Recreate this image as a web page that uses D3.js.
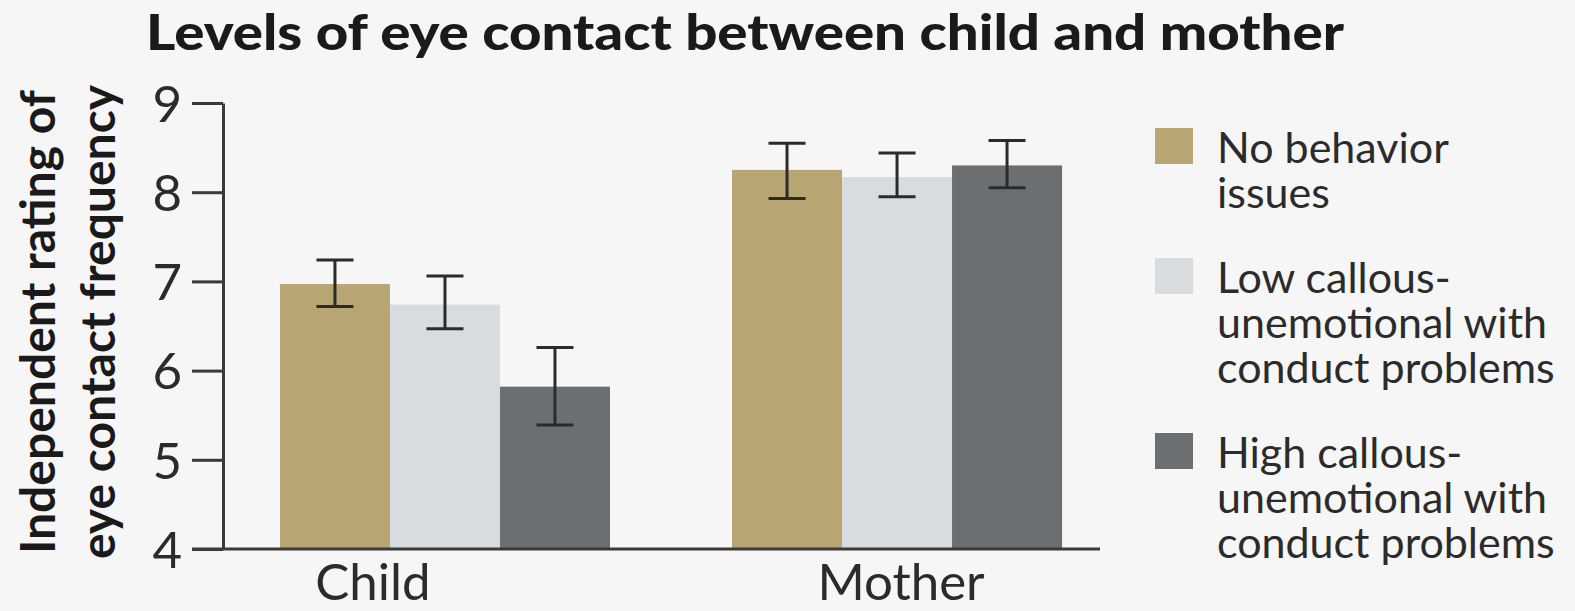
<!DOCTYPE html>
<html>
<head>
<meta charset="utf-8">
<script src="https://cdn.jsdelivr.net/npm/d3@7"></script>
<style>
  body { margin: 0; background: #f6f6f6; }
  svg { display: block; font-family: Lato, "Open Sans", sans-serif; }
</style>
</head>
<body>
<div id="chart"></div>
<script>
// data
var groups = ["Child", "Mother"];
var series = ["No behavior issues", "Low callous-unemotional with conduct problems", "High callous-unemotional with conduct problems"];
var legendLines = [["No behavior", "issues"], ["Low callous-", "unemotional with", "conduct problems"], ["High callous-", "unemotional with", "conduct problems"]];
var means = [[6.97, 6.74, 5.82], [8.25, 8.17, 8.30]];
var errLow = [[6.72, 6.47, 5.39], [7.93, 7.95, 8.05]];
var errHigh = [[7.24, 7.06, 6.26], [8.55, 8.44, 8.58]];
var yTicks = [4, 5, 6, 7, 8, 9];
var colors = ["#b8a574", "#d9dcdf", "#6c6f72"];

var W = 1575, H = 611;

var svg = d3.select("#chart").append("svg")
    .attr("width", W)
    .attr("height", H);

svg.append("rect").attr("width", W).attr("height", H).attr("fill", "#f6f6f6");

var y = d3.scaleLinear().domain([4, 9]).range([549, 103]);

var x0 = d3.scaleBand()
    .domain(groups)
    .range([223, 1119])
    .paddingInner(0.27)
    .paddingOuter(0.126);

var x1 = d3.scaleBand()
    .domain(d3.range(series.length))
    .range([0, x0.bandwidth()]);

// title
svg.append("text")
    .attr("x", 745)
    .attr("y", 50)
    .attr("text-anchor", "middle")
    .attr("font-weight", "900")
    .attr("font-size", "49px")
    .attr("textLength", 1198)
    .attr("lengthAdjust", "spacingAndGlyphs")
    .attr("fill", "#1a1a1a")
    .text("Levels of eye contact between child and mother");

// bars
var g = svg.selectAll(".grp")
    .data(groups)
    .enter().append("g")
    .attr("transform", d => `translate(${x0(d)},0)`);

g.selectAll("rect")
    .data((d, i) => means[i].map((v, j) => ({ v: v, j: j })))
    .enter().append("rect")
    .attr("x", d => x1(d.j))
    .attr("width", x1.bandwidth())
    .attr("y", d => y(d.v))
    .attr("height", d => y(4) - y(d.v))
    .attr("fill", d => colors[d.j]);

// error bars
var capW = 37;
var eb = g.selectAll(".err")
    .data((d, i) => means[i].map((v, j) => ({ j: j, lo: errLow[i][j], hi: errHigh[i][j] })))
    .enter().append("g")
    .attr("class", "err")
    .attr("stroke", "#2b2b2b")
    .attr("stroke-width", 3);

eb.append("line")
    .attr("x1", d => x1(d.j) + x1.bandwidth() / 2)
    .attr("x2", d => x1(d.j) + x1.bandwidth() / 2)
    .attr("y1", d => y(d.lo))
    .attr("y2", d => y(d.hi));
eb.append("line")
    .attr("x1", d => x1(d.j) + x1.bandwidth() / 2 - capW / 2)
    .attr("x2", d => x1(d.j) + x1.bandwidth() / 2 + capW / 2)
    .attr("y1", d => y(d.hi))
    .attr("y2", d => y(d.hi));
eb.append("line")
    .attr("x1", d => x1(d.j) + x1.bandwidth() / 2 - capW / 2)
    .attr("x2", d => x1(d.j) + x1.bandwidth() / 2 + capW / 2)
    .attr("y1", d => y(d.lo))
    .attr("y2", d => y(d.lo));

// y axis
var yAxis = svg.append("g")
    .attr("transform", "translate(223,0)")
    .call(d3.axisLeft(y).tickValues(yTicks).tickSize(31).tickSizeOuter(0).tickPadding(10).tickFormat(d3.format("d")));
yAxis.select(".domain").attr("stroke", "#3a3a3a").attr("stroke-width", 3);
yAxis.selectAll(".tick line").attr("stroke", "#3a3a3a").attr("stroke-width", 3);
yAxis.selectAll(".tick text")
    .attr("font-family", "Lato, sans-serif")
    .attr("font-size", "51px")
    .attr("fill", "#2b2b2b")
    .attr("dy", "0.36em");

// baseline
svg.append("line")
    .attr("x1", 192).attr("x2", 1100)
    .attr("y1", y(4)).attr("y2", y(4))
    .attr("stroke", "#3a3a3a")
    .attr("stroke-width", 3);

// category labels (Child sits left of its group in the original)
var labelShift = { Child: -72, Mother: 4 };
svg.selectAll(".cat")
    .data(groups)
    .enter().append("text")
    .attr("x", d => x0(d) + x0.bandwidth() / 2 + labelShift[d])
    .attr("y", 600)
    .attr("text-anchor", "middle")
    .attr("font-size", "51px")
    .attr("fill", "#2b2b2b")
    .text(d => d);

// y axis title
var yt = svg.append("text")
    .attr("transform", "translate(0,322) rotate(-90)")
    .attr("text-anchor", "middle")
    .attr("font-weight", "bold")
    .attr("font-size", "48px")
    .attr("fill", "#1a1a1a");
yt.append("tspan").attr("x", 0).attr("y", 55).text("Independent rating of");
yt.append("tspan").attr("x", 0).attr("y", 115).text("eye contact frequency");

// legend
var leg = svg.selectAll(".leg")
    .data(series)
    .enter().append("g")
    .attr("transform", (d, i) => `translate(1155,${[128, 258, 433][i]})`);

leg.append("rect")
    .attr("width", 38)
    .attr("height", 36)
    .attr("fill", (d, i) => colors[i]);

leg.append("text")
    .attr("font-size", "43px")
    .attr("fill", "#2b2b2b")
    .selectAll("tspan")
    .data((d, i) => legendLines[i])
    .enter().append("tspan")
    .attr("x", 62)
    .attr("y", (d, k) => 35 + k * 45)
    .text(d => d);
</script>
</body>
</html>
